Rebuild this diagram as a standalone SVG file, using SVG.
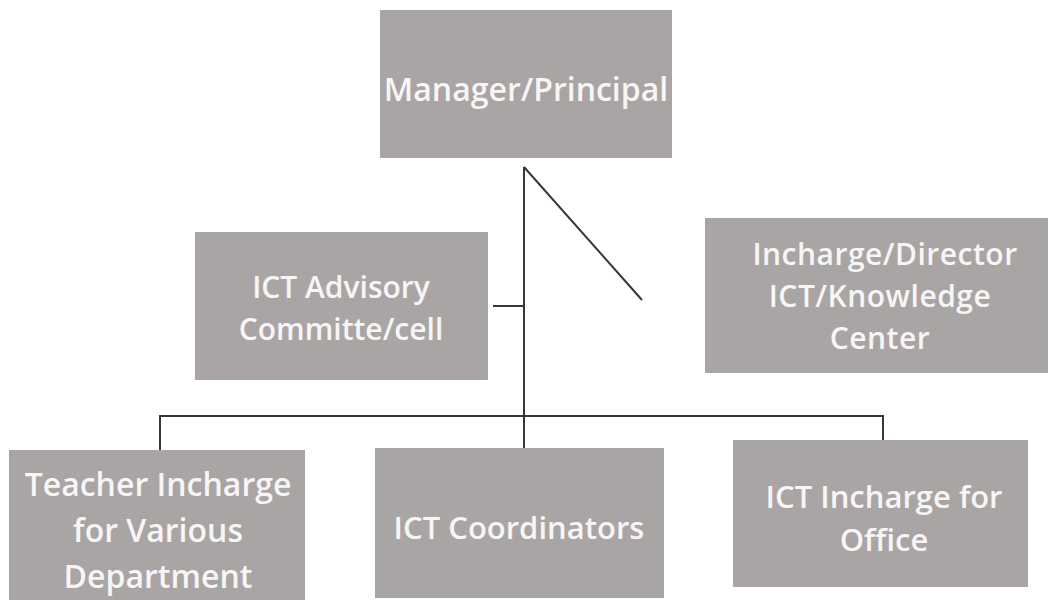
<svg xmlns="http://www.w3.org/2000/svg" width="1050" height="600" viewBox="0 0 1050 600">
<style>
.box{fill:#aaa5a5}
.lbl{font-family:"Open Sans","Liberation Sans",sans-serif;font-weight:600;fill:#f7f5f5;text-anchor:middle;dominant-baseline:central}
.conn{stroke:#3a3636;stroke-width:2;fill:none}
</style>
<rect width="1050" height="600" fill="#ffffff"/>
<g id="connectors">
<path class="conn" d="M524,167 V448"/>
<path class="conn" d="M524,167 L642,300"/>
<path class="conn" d="M493,306 H524"/>
<path class="conn" d="M160,450 V416 H883 V440"/>
</g>
<g id="manager">
<rect class="box" x="380" y="10" width="292" height="148"/>
<text class="lbl" x="526" y="88" font-size="32">Manager/Principal</text>
</g>
<g id="advisory">
<rect class="box" x="195" y="232" width="293" height="148"/>
<text class="lbl" x="341" y="286" font-size="30">ICT Advisory</text>
<text class="lbl" x="341" y="328" font-size="30">Committe/cell</text>
</g>
<g id="director">
<rect class="box" x="705" y="218" width="343" height="155"/>
<text class="lbl" x="885" y="253" font-size="30" letter-spacing="0.5">Incharge/Director</text>
<text class="lbl" x="880" y="295" font-size="30" letter-spacing="0.5">ICT/Knowledge</text>
<text class="lbl" x="880" y="337" font-size="30" letter-spacing="0.5">Center</text>
</g>
<g id="teacher">
<rect class="box" x="9" y="450" width="296" height="150"/>
<text class="lbl" x="158" y="483" font-size="32">Teacher Incharge</text>
<text class="lbl" x="158" y="529" font-size="32">for Various</text>
<text class="lbl" x="158" y="575" font-size="32">Department</text>
</g>
<g id="coordinators">
<rect class="box" x="375" y="448" width="289" height="150"/>
<text class="lbl" x="519" y="527" font-size="31">ICT Coordinators</text>
</g>
<g id="office">
<rect class="box" x="733" y="440" width="295" height="147"/>
<text class="lbl" x="884" y="496" font-size="31">ICT Incharge for</text>
<text class="lbl" x="884" y="539" font-size="31">Office</text>
</g>
</svg>
